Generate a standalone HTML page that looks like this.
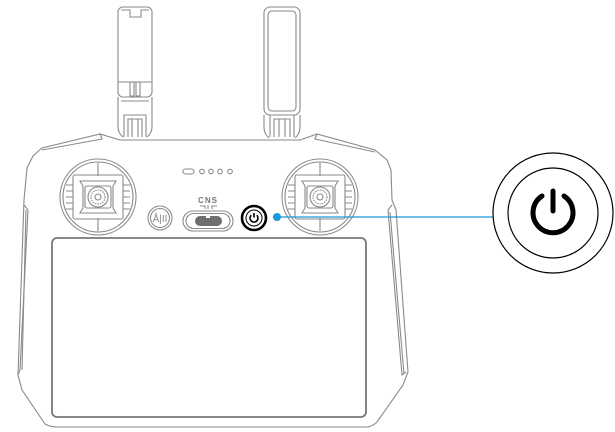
<!DOCTYPE html>
<html><head><meta charset="utf-8"><style>
html,body{margin:0;padding:0;background:#fff;}
svg{display:block}
</style></head><body>
<svg width="615" height="432" viewBox="0 0 615 432" xmlns="http://www.w3.org/2000/svg">
<g fill="none" stroke="#8a8a8a" stroke-width="1.1">
<!-- antennas -->
<rect x="118" y="7" width="34" height="90" rx="5"/>
<path d="M121 10 h9 v7 h11 v-7 h8"/>
<line x1="118" y1="82" x2="152" y2="82"/>
<rect x="130" y="82" width="4" height="14"/><rect x="136" y="82" width="4" height="14"/>
<path d="M118 97 v30 q0 6 5 10 M152 97 v30 q0 6 -5 10"/>
<line x1="121" y1="101" x2="149" y2="101"/>
<path d="M124 137 v-22 h22 v22 M128 137 v-18 h14 v18 M132 119 v18 M138 119 v18"/>
<rect x="264" y="7" width="36" height="108" rx="6"/>
<rect x="268" y="11" width="28" height="100" rx="4"/>
<path d="M264 115 v12 q0 7 5 11 M300 115 v12 q0 7 -5 11"/>
<path d="M270 137 v-22 h24 v22 M274 137 v-18 h16 v18 M279 119 v18 M285 119 v18"/>
<!-- body -->
<path d="M120 140 L100 134 L42 148 L33 156 L27 168 L24 200 L18 375 L22 390 L45 424 Q50 427 58 427 L366 427 Q372 427 377 422 L403 385 L408 372 L396 210 L392 200 L391 170 L387 160 L375 150 L317 134 L300 140 Z"/>
<path d="M100 134 L102 139 L42 150"/>
<path d="M317 134 L315 139 L375 152"/>
<line x1="120" y1="140" x2="300" y2="140"/>
<path d="M24 205 L28 210 L20 370 L18 375"/>
<path d="M392 205 L388 210 L402 375 L406 372"/>
<path d="M26 210 L22 370"/>
<path d="M390 212 L404 374"/>
<!-- screen -->
<rect x="52" y="238" width="314" height="179" rx="5" stroke="#777" stroke-width="1.8"/>
<!-- sticks -->
<g id="st">
<circle cx="98" cy="197" r="38"/>
<circle cx="98" cy="197" r="35"/>
<line x1="98" y1="163" x2="98" y2="176"/><line x1="98" y1="218" x2="98" y2="231"/>
<rect x="73" y="175" width="50" height="44" rx="2"/>
<path d="M80 181 h36 l-3 5 v22 l3 5 h-36 l3 -5 v-22 z"/>
<rect x="85" y="186" width="26" height="22" rx="2"/>
<circle cx="98" cy="197" r="10"/>
<circle cx="98" cy="197" r="7" stroke-dasharray="1.5 1"/>
<circle cx="98" cy="197" r="3"/>
<path d="M66 185 h7 M66 191 h7 M66 197 h7 M66 203 h7 M66 209 h7 M123 185 h7 M123 191 h7 M123 197 h7 M123 203 h7 M123 209 h7"/>
</g>
<use href="#st" x="222"/>
<!-- indicator dots -->
<rect x="183" y="169" width="11" height="5" rx="2.5"/>
<circle cx="202" cy="171.5" r="2.3"/><circle cx="211" cy="171.5" r="2.3"/><circle cx="220" cy="171.5" r="2.3"/><circle cx="230" cy="171.5" r="2.3"/>
<!-- slider -->
<rect x="183" y="211" width="50" height="20" rx="10"/>
<rect x="186" y="213.5" width="44" height="15" rx="7.5"/>
<path d="M200 206 h5 v3 M208 205 v4 M212 209 v-3 h5"/>
<!-- left button -->
<circle cx="160" cy="218" r="12"/>
<circle cx="160" cy="218" r="9.5"/>
</g>
<rect x="195" y="216" width="27" height="10" rx="5" fill="#6e6e6e"/>
<rect x="206" y="216" width="4" height="2" fill="#fff"/>
<text x="208" y="203" font-family="Liberation Sans, sans-serif" font-size="8" font-weight="bold" fill="#777" text-anchor="middle" letter-spacing="1">CNS</text>
<text x="160" y="222" font-family="Liberation Sans, sans-serif" font-size="10" fill="#888" text-anchor="middle">Å|II</text>
<!-- power button -->
<circle cx="254" cy="218" r="12" fill="none" stroke="#000" stroke-width="2.6"/>
<circle cx="254" cy="218" r="8" fill="none" stroke="#000" stroke-width="1"/>
<path d="M251.2 215.2 A4 4 0 1 0 256.8 215.2" fill="none" stroke="#000" stroke-width="1.6"/>
<line x1="254" y1="213" x2="254" y2="217.5" stroke="#000" stroke-width="1.6"/>
<!-- connector -->
<line x1="277" y1="217" x2="494" y2="217" stroke="#1a9ad6" stroke-width="1.3"/>
<circle cx="277" cy="217" r="4" fill="#1a9ad6"/>
<!-- big icon -->
<circle cx="553" cy="213" r="60" fill="#fff" stroke="#000" stroke-width="1.2"/>
<circle cx="553" cy="213" r="45" fill="none" stroke="#000" stroke-width="1.2"/>
<path d="M542 196 A20 20 0 1 0 564 196" fill="none" stroke="#000" stroke-width="5" stroke-linecap="round"/>
<line x1="553" y1="191" x2="553" y2="211" stroke="#000" stroke-width="5" stroke-linecap="round"/>
</svg>
</body></html>
